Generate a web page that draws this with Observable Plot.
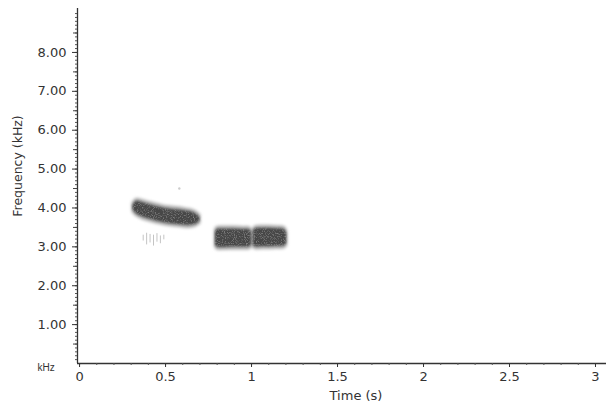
<!DOCTYPE html>
<html><head><meta charset="utf-8">
<script src="https://cdn.jsdelivr.net/npm/d3@7"></script>
<script src="https://cdn.jsdelivr.net/npm/@observablehq/plot@0.6"></script>
<style>body{margin:0;background:#fff}</style>
</head><body><div id="chart"></div>
<svg width="0" height="0" style="position:absolute">
  <defs>
    <filter id="grain" x="-10%" y="-30%" width="120%" height="160%">
      <feGaussianBlur in="SourceGraphic" stdDeviation="1.1" result="soft"/>
      <feTurbulence type="fractalNoise" baseFrequency="0.9" numOctaves="2" seed="3" result="noise"/>
      <feColorMatrix in="noise" type="matrix" values="0 0 0 0 0.55  0 0 0 0 0.55  0 0 0 0 0.55  0 0 0 1.0 -0.5" result="speck"/>
      <feComposite in="speck" in2="soft" operator="in" result="speckIn"/>
      <feMerge><feMergeNode in="soft"/><feMergeNode in="speckIn"/></feMerge>
    </filter>
  </defs>
</svg>
<script>
// Note 1 (descending)
const note1Time = [0.31, 0.33, 0.36, 0.40, 0.44, 0.48, 0.52, 0.56, 0.60, 0.64, 0.67, 0.70];
const note1Low  = [3.90, 3.80, 3.73, 3.67, 3.62, 3.58, 3.55, 3.53, 3.51, 3.50, 3.52, 3.60];
const note1High = [4.12, 4.22, 4.20, 4.15, 4.10, 4.06, 4.03, 4.01, 3.99, 3.96, 3.92, 3.82];
// Note 2 (two flat segments)
const note2aTime = [0.79, 0.80, 0.84, 0.90, 0.95, 0.99, 1.00];
const note2aLow  = [3.00, 2.94, 2.93, 2.94, 2.94, 2.95, 3.00];
const note2aHigh = [3.42, 3.50, 3.51, 3.51, 3.50, 3.49, 3.42];
const note2bTime = [1.01, 1.02, 1.06, 1.10, 1.15, 1.19, 1.205];
const note2bLow  = [3.00, 2.95, 2.95, 2.95, 2.96, 2.97, 3.03];
const note2bHigh = [3.44, 3.51, 3.53, 3.53, 3.52, 3.50, 3.40];
// faint streaks below note 1
const streakTime = [0.37, 0.39, 0.41, 0.43, 0.45, 0.47, 0.49];
const streakLow  = [3.15, 3.05, 3.10, 3.02, 3.12, 3.08, 3.18];
const streakHigh = [3.30, 3.35, 3.32, 3.30, 3.34, 3.28, 3.30];
const xTicks = [0, 0.5, 1, 1.5, 2, 2.5, 3];
const yTicks = [1, 2, 3, 4, 5, 6, 7, 8];

const mk = (name, t, lo, hi) => t.map((x, i) => ({note: name, t: x, lo: lo[i], hi: hi[i]}));
const notes = [
  ...mk("n1", note1Time, note1Low, note1High),
  ...mk("n2a", note2aTime, note2aLow, note2aHigh),
  ...mk("n2b", note2bTime, note2bLow, note2bHigh)
];
const streaks = mk("s", streakTime, streakLow, streakHigh);
const xMinor = d3.range(0, 3.05, 0.1);
const yMinor = d3.range(0.1, 9.1, 0.1);
const font = "DejaVu Sans, Verdana, sans-serif";

const plot = Plot.plot({
  width: 608, height: 403,
  marginLeft: 77, marginRight: 2, marginTop: 8, marginBottom: 40,
  style: {fontFamily: font, fontSize: "13px", color: "#333", background: "#fff"},
  x: {domain: [-0.012, 3.064]},
  y: {domain: [0, 9.13]},
  marks: [
    Plot.areaY(notes, {x: "t", y1: "lo", y2: "hi", z: "note", fill: "#a0a0a0", stroke: "#b0b0b0", strokeWidth: 2, curve: "catmull-rom", imageFilter: "blur(1.5px)"}),
    Plot.areaY(notes, {x: "t", y1: d => d.lo + 0.06, y2: d => d.hi - 0.06, z: "note", fill: "#474747", curve: "catmull-rom", imageFilter: "url(#grain)"}),
    Plot.ruleX(streaks, {x: "t", y1: "lo", y2: "hi", stroke: "#c4c4c4", strokeWidth: 1}),
    Plot.dot([{t: 0.58, f: 4.5}], {x: "t", y: "f", r: 1.2, fill: "#ccc"}),
    // axes lines
    Plot.ruleY([0], {stroke: "#333", strokeWidth: 1.3}),
    Plot.ruleX([-0.012], {stroke: "#333", strokeWidth: 1.3}),
    // minor ticks
    Plot.axisX(xMinor, {tickSize: 2, tickFormat: () => "", label: null, stroke: "#555"}),
    Plot.axisY(yMinor, {tickSize: 2, tickFormat: () => "", label: null, stroke: "#555"}),
    Plot.axisY(d3.range(0.5, 9, 1), {tickSize: 4, tickFormat: () => "", label: null, stroke: "#444"}),
    Plot.axisX(xTicks, {tickSize: 4, tickPadding: 4, tickFormat: d => String(d), label: null, fontSize: 13, fill: "#333"}),
    Plot.axisY(yTicks, {tickSize: 5, tickPadding: 6, tickFormat: d => d.toFixed(2), label: null, fontSize: 13, fill: "#333"}),
    Plot.text(["Time (s)"], {frameAnchor: "bottom", dx: 14, dy: 36, fontSize: 13, fill: "#333"}),
    Plot.text(["Frequency (kHz)"], {frameAnchor: "left", dx: -60, dy: -20, rotate: -90, textAnchor: "middle", fontSize: 12.5, fill: "#333"}),
    Plot.text(["kHz"], {frameAnchor: "bottom-left", dx: -40, dy: 7, fontSize: 10, fill: "#333", fontFamily: "Liberation Sans Narrow, Liberation Sans, sans-serif"})
  ]
});
document.getElementById("chart").appendChild(plot);
</script></body></html>
